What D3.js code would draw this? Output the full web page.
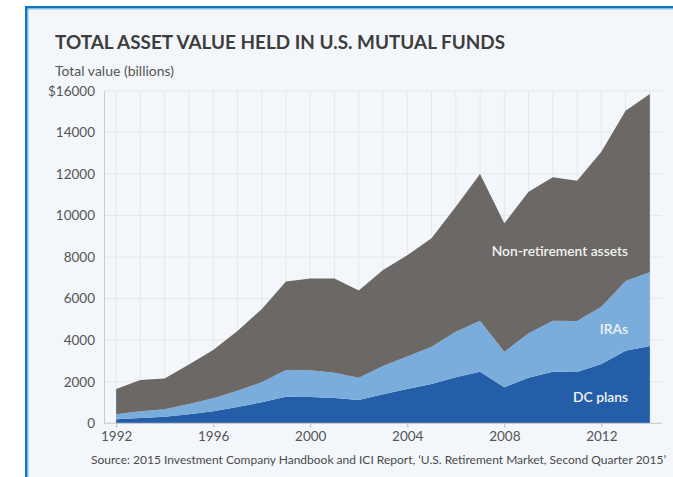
<!DOCTYPE html>
<html>
<head>
<meta charset="utf-8">
<script src="https://cdn.jsdelivr.net/npm/d3@7"></script>
<style>
  html, body { margin: 0; padding: 0; background: #ffffff; }
  svg { display: block; }
  text { font-family: "Lato", "Open Sans", sans-serif; }
</style>
</head>
<body>
<svg id="chart" width="673" height="477"></svg>
<script>
// Years covered by the series
const years = d3.range(1992, 2015);

// Assets by account type, billions of dollars
const dcPlans = [192, 255, 318, 433, 577, 784, 1010, 1280, 1265, 1217, 1121, 1395,
                 1650, 1890, 2213, 2482, 1732, 2194, 2482, 2468, 2852, 3492, 3718];
const iras = [241, 322, 355, 495, 625, 784, 962, 1284, 1284, 1217, 1073, 1361,
              1560, 1795, 2193, 2453, 1712, 2135, 2453, 2452, 2757, 3353, 3545];
const nonRetirement = [1217, 1503, 1477, 1902, 2324, 2872, 3518, 4256, 4421, 4536, 4196, 4624,
                       4880, 5214, 6014, 7056, 6176, 6811, 6898, 6750, 7455, 8191, 8577];

const seriesKeys = ["dc", "ira", "non"];
const seriesLabels = ["DC plans", "IRAs", "Non-retirement assets"];
const seriesColors = ["#245ea9", "#7aaddb", "#6c6865"];

const yTicks = [0, 2000, 4000, 6000, 8000, 10000, 12000, 14000, 16000];
const xTicks = [1992, 1996, 2000, 2004, 2008, 2012];

const rows = years.map((yr, i) => ({ year: yr, dc: dcPlans[i], ira: iras[i], non: nonRetirement[i] }));

const svg = d3.select("#chart");

// Card background and blue frame
svg.append("rect").attr("x", 25).attr("y", 6).attr("width", 660).attr("height", 480)
  .attr("fill", "#f3f7fb");
svg.append("rect").attr("x", 25).attr("y", 6).attr("width", 660).attr("height", 2.5)
  .attr("fill", "#0b76c0");
svg.append("rect").attr("x", 25).attr("y", 8.5).attr("width", 660).attr("height", 1)
  .attr("fill", "#8dbfe6");
svg.append("rect").attr("x", 25).attr("y", 6).attr("width", 2.5).attr("height", 480)
  .attr("fill", "#0b76c0");
svg.append("rect").attr("x", 27.5).attr("y", 8.5).attr("width", 1).attr("height", 480)
  .attr("fill", "#8dbfe6");

// Titles
svg.append("text").attr("x", 55).attr("y", 48.5)
  .attr("font-size", 18.5).attr("font-weight", 700).attr("fill", "#3e3d3d")
  .attr("textLength", 450).attr("lengthAdjust", "spacingAndGlyphs")
  .text("TOTAL ASSET VALUE HELD IN U.S. MUTUAL FUNDS");
svg.append("text").attr("x", 55).attr("y", 75.5)
  .attr("font-size", 13.5).attr("fill", "#555555")
  .attr("textLength", 119).attr("lengthAdjust", "spacingAndGlyphs")
  .text("Total value (billions)");

// Scales
const x = d3.scaleLinear().domain([1991.5, 2014.5]).range([104, 662]);
const y = d3.scaleLinear().domain([0, 16000]).range([423.3, 90.7]);

// Grid
const grid = svg.append("g");
grid.selectAll("line.h").data(yTicks).join("line")
  .attr("x1", 104).attr("x2", 662)
  .attr("y1", d => y(d)).attr("y2", d => y(d))
  .attr("stroke", "#e5e8eb").attr("stroke-width", 1);
grid.selectAll("line.v").data(years).join("line")
  .attr("x1", d => x(d)).attr("x2", d => x(d))
  .attr("y1", y(16000)).attr("y2", y(0))
  .attr("stroke", "#e5e8eb").attr("stroke-width", 1);

// Stacked areas
const stack = d3.stack().keys(seriesKeys);
const layers = stack(rows);
const area = d3.area()
  .x(d => x(d.data.year))
  .y0(d => y(d[0]))
  .y1(d => y(d[1]));
svg.append("g").selectAll("path").data(layers).join("path")
  .attr("d", area)
  .attr("fill", (d, i) => seriesColors[i]);

// Axes
const yAxis = svg.append("g").attr("transform", "translate(104,0)")
  .call(d3.axisLeft(y).tickValues(yTicks).tickSize(0).tickPadding(9)
    .tickFormat(d => d === 16000 ? "$" + d : String(d)));
yAxis.select(".domain").attr("stroke", "#c9cccf");
yAxis.selectAll("text").attr("font-size", 13.5).attr("fill", "#555555")
  .attr("font-family", "Lato, sans-serif");

const xAxis = svg.append("g").attr("transform", `translate(0,${y(0)})`)
  .call(d3.axisBottom(x).tickValues(xTicks).tickSize(4).tickPadding(4)
    .tickFormat(d3.format("d")));
xAxis.select(".domain").attr("stroke", "#c9cccf").attr("d", "M104,0H662");
xAxis.selectAll(".tick line").attr("stroke", "#b8bcc0");
xAxis.selectAll("text").attr("font-size", 13.5).attr("fill", "#555555")
  .attr("font-family", "Lato, sans-serif");

// Series labels inside the areas
const labelY = [401.5, 334, 255.5];
svg.append("g").selectAll("text").data(seriesLabels).join("text")
  .attr("x", 628).attr("y", (d, i) => labelY[i])
  .attr("text-anchor", "end")
  .attr("font-size", 13.8).attr("font-weight", 600).attr("fill", "#f2f2f2")
  .text(d => d);

// Source line
svg.append("text").attr("x", 91).attr("y", 464)
  .attr("font-size", 12).attr("fill", "#4a4a4a")
  .text("Source: 2015 Investment Company Handbook and ICI Report, \u2018U.S. Retirement Market, Second Quarter 2015\u2019");
</script>
</body>
</html>
